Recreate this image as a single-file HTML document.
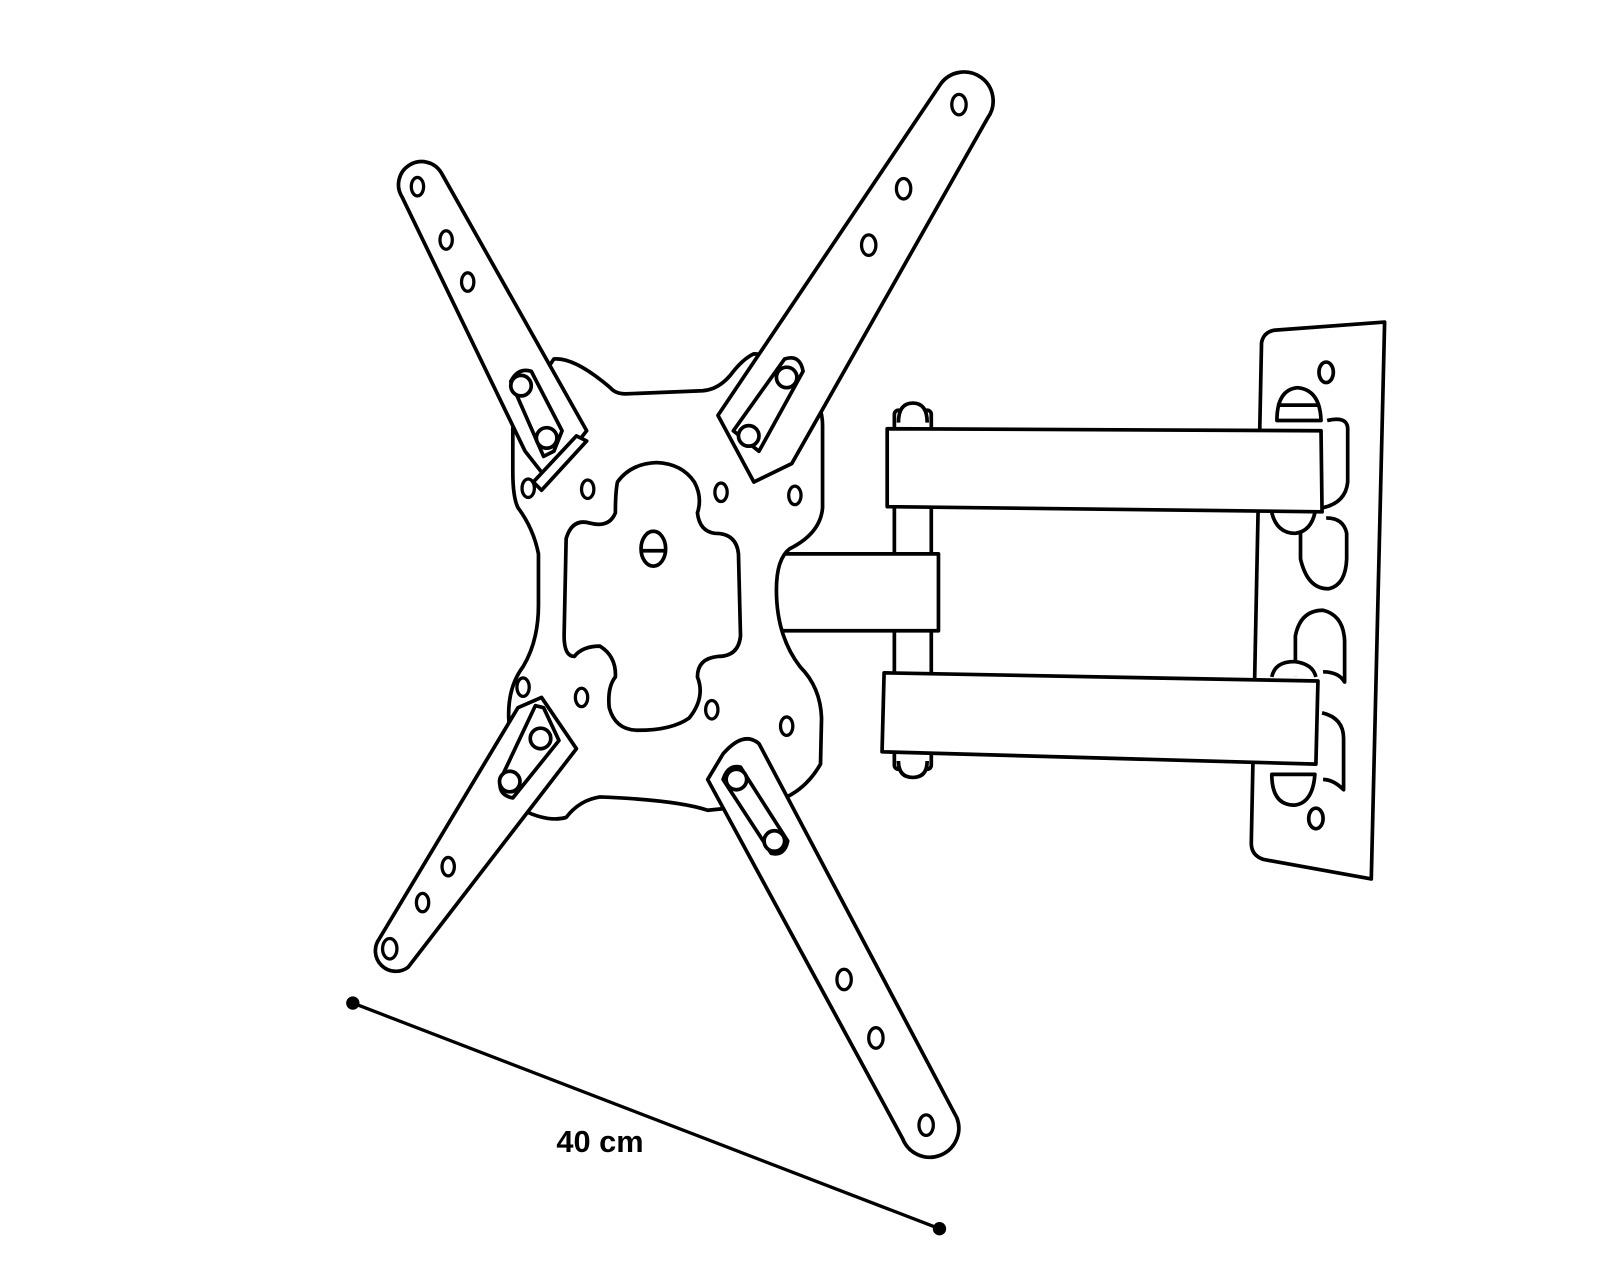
<!DOCTYPE html>
<html><head><meta charset="utf-8"><style>html,body{margin:0;padding:0;background:#fff}svg{display:block}</style></head>
<body>
<svg width="1600" height="1280" viewBox="0 0 1560 1248" preserveAspectRatio="none" xmlns="http://www.w3.org/2000/svg">
<g fill="#fff" stroke="#000" stroke-width="3.6" stroke-linejoin="round">
<!-- wall plate -->
<path d="M1242,322 L1350,314 L1337,857 L1232,838 Q1220,834 1220,822 L1230,334 Q1232,324 1242,322 Z"/>
<ellipse cx="1293" cy="363" rx="7" ry="10"/>
<ellipse cx="1283" cy="798" rx="7" ry="10"/>
<path d="M1294,410 Q1315,405 1314,420 L1314,470 Q1312,490 1290,495"/>
<path d="M1268,510 L1268,545 Q1275,575 1296,574 Q1312,570 1313,545 L1313,520 Q1310,505 1293,505"/>
<path d="M1263,660 L1263,620 Q1268,595 1290,595 Q1310,600 1311,625 L1311,665 Q1305,655 1290,655"/>
<path d="M1289,695 Q1310,700 1310,720 L1310,770 Q1300,760 1290,760"/>
<path d="M1245,410 Q1245,380 1265,378 Q1287,380 1288,410 Z"/>
<path d="M1245,395 L1285,395"/>
<path d="M1240,500 Q1245,520 1263,520 Q1278,518 1282,500"/>
<path d="M1240,660 Q1243,645 1262,645 Q1280,647 1283,660"/>
<path d="M1240,755 Q1240,785 1262,785 Q1280,783 1282,755 Z"/>
<!-- post -->
<rect x="872" y="400" width="36" height="350" rx="4"/>
<path d="M876,412 Q876,393 890,393 Q904,393 904,412"/>
<path d="M876,742 Q876,758 890,758 Q904,758 904,742"/>
<!-- arms -->
<path d="M865,418 L1288,420 L1289,499 L865,494 Z"/>
<path d="M862,656 L1285,664 L1283,745 L860,733 Z"/>
<rect x="755" y="540" width="160" height="75"/>
<!-- center plate -->
<path d="M540,350 Q560,348 595,378 Q600,384 610,384 L685,381 Q700,380 712,366 Q724,350 735,345 Q760,345 790,385 Q802,395 802,415 L802,495 Q800,520 770,535 Q757,545 757,575 Q757,620 780,650 Q800,670 801,700 L800,745 Q780,780 740,785 L690,790 Q660,780 585,777 Q565,780 552,797 Q535,802 510,790 Q500,760 496,700 Q495,670 510,650 Q525,625 525,590 L525,540 Q520,515 505,495 Q500,485 500,460 L500,418 Q502,395 520,380 Z"/>
<!-- inner cutout -->
<path d="M640,451 Q665,452 677,470 Q685,485 680,500 Q682,518 697,520 Q718,520 720,540 L722,620 Q720,640 700,640 Q680,642 680,660 Q688,680 672,700 Q655,712 622,712 Q600,712 594,690 Q592,670 600,660 Q601,640 585,630 Q568,630 560,640 Q550,640 550,620 L552,525 Q558,505 575,510 Q594,515 600,500 Q600,480 602,470 Q615,452 640,451 Z"/>
<ellipse cx="637" cy="535" rx="12" ry="17"/>
<line x1="625" y1="537" x2="649" y2="537"/>
<g stroke-width="3.2">
<ellipse cx="573" cy="477" rx="6" ry="9"/><ellipse cx="703" cy="480" rx="6" ry="9"/>
<ellipse cx="775" cy="483" rx="6" ry="9"/><ellipse cx="515" cy="476" rx="6" ry="9"/>
<ellipse cx="510" cy="670" rx="6" ry="9"/><ellipse cx="567" cy="680" rx="6" ry="9"/>
<ellipse cx="694" cy="692" rx="6" ry="9"/><ellipse cx="767" cy="708" rx="6" ry="9"/>
</g>
<!-- top-left arm -->
<path d="M392,192 L512,440 L534,468 L572,420 L430,168 A22,22 0 0 0 392,192 Z"/>
<path d="M498,372 Q505,358 518,362 L548,420 L540,440 L530,445 Z"/>
<path d="M520,470 L562,425 L572,430 L528,478 Z"/>
<circle cx="508" cy="376" r="10"/><circle cx="533" cy="427" r="10"/>
<g stroke-width="3.2"><ellipse cx="407" cy="182" rx="6" ry="9"/><ellipse cx="435" cy="234" rx="6" ry="9"/><ellipse cx="456" cy="275" rx="6" ry="9"/></g>
<!-- top-right arm -->
<path d="M917,82 L700,405 L735,470 L772,452 L963,115 A26,26 0 0 0 917,82 Z"/>
<path d="M715,420 L765,350 Q780,345 783,362 L740,440 Z"/>
<circle cx="767" cy="368" r="10"/><circle cx="730" cy="425" r="10"/>
<g stroke-width="3.2"><ellipse cx="935" cy="102" rx="7" ry="10"/><ellipse cx="881" cy="184" rx="7" ry="10"/><ellipse cx="847" cy="239" rx="7" ry="10"/></g>
<!-- bottom-left arm -->
<path d="M370,915 L505,690 L528,680 L562,730 L398,943 A20,20 0 0 1 370,915 Z"/>
<path d="M488,760 L522,688 L530,690 L545,722 L500,778 Q485,775 488,760 Z"/>
<circle cx="527" cy="720" r="10"/><circle cx="497" cy="762" r="10"/>
<g stroke-width="3.2"><ellipse cx="437" cy="845" rx="6" ry="9"/><ellipse cx="412" cy="880" rx="6" ry="9"/><ellipse cx="380" cy="925" rx="7" ry="10"/></g>
<!-- bottom-right arm -->
<path d="M690,760 L880,1110 A28,28 0 0 0 933,1090 L740,725 Q725,712 705,735 Z"/>
<path d="M705,760 Q710,745 722,748 L768,820 Q765,835 752,832 Z"/>
<circle cx="718" cy="760" r="10"/><circle cx="755" cy="820" r="10"/>
<g stroke-width="3.2"><ellipse cx="823" cy="955" rx="7" ry="10"/><ellipse cx="854" cy="1012" rx="7" ry="10"/><ellipse cx="903" cy="1097" rx="7" ry="10"/></g>
</g>
<!-- dimension -->
<line x1="344" y1="978" x2="916" y2="1198" stroke="#000" stroke-width="3.2"/>
<circle cx="344" cy="978" r="6.5" fill="#000"/>
<circle cx="916" cy="1198" r="6.5" fill="#000"/>
<text x="585" y="1123" font-family="Liberation Sans, sans-serif" font-weight="bold" font-size="30" text-anchor="middle" fill="#000">40 cm</text>
</svg>
</body></html>
